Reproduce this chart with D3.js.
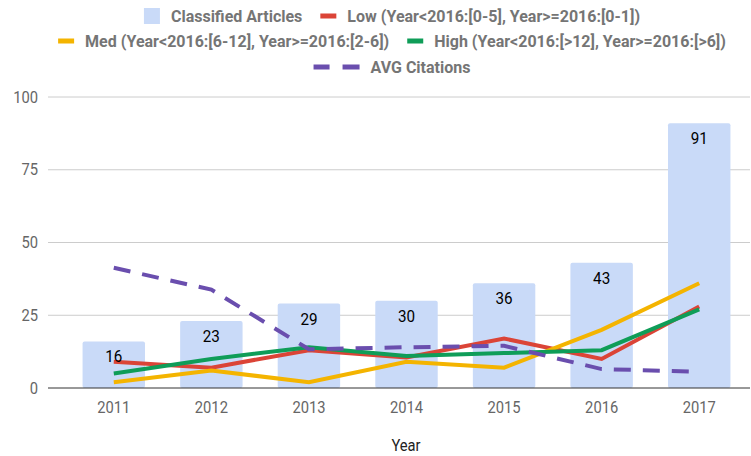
<!DOCTYPE html>
<meta charset="utf-8">
<head>
  <meta charset="utf-8">
  <title>Classified Articles</title>
  <style>
    body { margin: 0; background: #fff; }
    svg { font-family: Roboto, sans-serif; }
  </style>
</head>
<body>
<script src="https://cdn.jsdelivr.net/npm/d3@7"></script>
<script>

// data
var years = ["2011", "2012", "2013", "2014", "2015", "2016", "2017"];
var articles = [16, 23, 29, 30, 36, 43, 91];
var low = [9, 7, 13, 10.5, 17, 10, 28];
var med = [2, 6, 2, 9, 7, 20, 36];
var high = [5, 10, 14, 11, 12, 13, 27];
var avgCitations = [41.3, 33.8, 13.3, 14, 14.5, 6.5, 5.6];
var yTicks = [0, 25, 50, 75, 100];

var series = [
  {name: "Low (Year<2016:[0-5], Year>=2016:[0-1])", values: low, color: "#db4437"},
  {name: "Med (Year<2016:[6-12], Year>=2016:[2-6])", values: med, color: "#f4b400"},
  {name: "High (Year<2016:[>12], Year>=2016:[>6])", values: high, color: "#0f9d58"},
  {name: "AVG Citations", values: avgCitations, color: "#6a4eae", dash: "17,12"}
];

var width = 751, height = 456;
var plot = {left: 48, right: 750, top: 97, bottom: 388};

// the reference text is a bit narrower than plain Roboto
function squeeze(sel, k) {
  sel.each(function() {
    var w = this.getComputedTextLength();
    d3.select(this).attr("textLength", w * k).attr("lengthAdjust", "spacingAndGlyphs");
  });
}

var svg = d3.select("body").append("svg")
    .attr("width", width)
    .attr("height", height);

var x = d3.scaleBand()
    .domain(years)
    .range([65, 748])
    .paddingInner(0.36)
    .paddingOuter(0.18);

var y = d3.scaleLinear()
    .domain([0, 100])
    .range([plot.bottom, plot.top]);

// gridlines
svg.append("g").selectAll("line")
    .data(yTicks.slice(1))
    .enter().append("line")
    .attr("x1", plot.left)
    .attr("x2", plot.right)
    .attr("y1", function(d) { return y(d); })
    .attr("y2", function(d) { return y(d); })
    .attr("stroke", "#cccccc")
    .attr("stroke-width", 1);

// y axis labels
var yAxis = svg.append("g")
    .attr("transform", "translate(" + plot.left + ",0)")
    .call(d3.axisLeft(y).tickValues(yTicks).tickSize(0).tickPadding(10));
yAxis.select(".domain").remove();
yAxis.selectAll("text")
    .style("font-family", "Roboto")
    .style("font-size", "16px")
    .attr("fill", "#666")
    .call(squeeze, 0.92);

// bars
var cx = function(i) { return x(years[i]) + x.bandwidth() / 2; };

svg.append("g").selectAll("rect")
    .data(articles)
    .enter().append("rect")
    .attr("x", function(d, i) { return x(years[i]); })
    .attr("width", x.bandwidth())
    .attr("y", function(d) { return y(d); })
    .attr("height", function(d) { return plot.bottom - y(d); })
    .attr("rx", 2)
    .attr("fill", "#c9daf8");

// baseline
svg.append("line")
    .attr("x1", plot.left)
    .attr("x2", plot.right)
    .attr("y1", y(0))
    .attr("y2", y(0))
    .attr("stroke", "#333")
    .attr("stroke-width", 1);

// x axis labels
var xAxis = svg.append("g")
    .attr("transform", "translate(0," + plot.bottom + ")")
    .call(d3.axisBottom(x).tickSize(0).tickPadding(14));
xAxis.select(".domain").remove();
xAxis.selectAll("text")
    .style("font-family", "Roboto")
    .style("font-size", "16px")
    .attr("fill", "#666")
    .call(squeeze, 0.92);

svg.append("text")
    .attr("x", 406)
    .attr("y", 451)
    .attr("text-anchor", "middle")
    .style("font-size", "16px")
    .attr("fill", "#222")
    .text("Year")
    .call(squeeze, 0.92);

// lines
var line = d3.line()
    .x(function(d, i) { return cx(i); })
    .y(function(d) { return y(d); });

series.forEach(function(s) {
  svg.append("path")
      .datum(s.values)
      .attr("d", line)
      .attr("fill", "none")
      .attr("stroke", s.color)
      .attr("stroke-width", 4)
      .attr("stroke-dasharray", s.dash || null);
});

// bar annotations
svg.append("g").selectAll("text")
    .data(articles)
    .enter().append("text")
    .attr("x", function(d, i) { return cx(i); })
    .attr("y", function(d) { return y(d) + 21; })
    .attr("text-anchor", "middle")
    .style("font-size", "16px")
    .attr("fill", "#000")
    .text(function(d) { return d; })
    .call(squeeze, 0.95);

// legend
var legendItems = [{name: "Classified Articles", type: "bar", color: "#c9daf8"}]
    .concat(series.map(function(s) { return {name: s.name, type: s.dash ? "dash" : "line", color: s.color}; }));
var rows = [[legendItems[0], legendItems[1]], [legendItems[2], legendItems[3]], [legendItems[4]]];
var rowY = [16, 41, 67];

rows.forEach(function(row, r) {
  var g = svg.append("g");
  var pos = 0;
  row.forEach(function(item, k) {
    var mw = item.type === "dash" ? 46 : 16;
    if (item.type === "bar") {
      g.append("rect").attr("x", pos).attr("y", rowY[r] - 8)
          .attr("width", 16).attr("height", 16).attr("fill", item.color);
    } else {
      g.append("rect").attr("x", pos).attr("y", rowY[r] - 2.5)
          .attr("width", 16).attr("height", 5).attr("fill", item.color);
      if (item.type === "dash") {
        g.append("rect").attr("x", pos + 29).attr("y", rowY[r] - 2.5)
            .attr("width", 17).attr("height", 5).attr("fill", item.color);
      }
    }
    var t = g.append("text")
        .attr("x", pos + mw + 11)
        .attr("y", rowY[r] + 6)
        .style("font-size", "16px")
        .style("font-weight", "bold")
        .attr("fill", "#757575")
        .text(item.name);
    pos += mw + 11 + t.node().getComputedTextLength();
    if (k < row.length - 1) pos += 18;
  });
  g.attr("transform", "translate(" + (392 - pos / 2) + ",0)");
});

</script>
</body>
